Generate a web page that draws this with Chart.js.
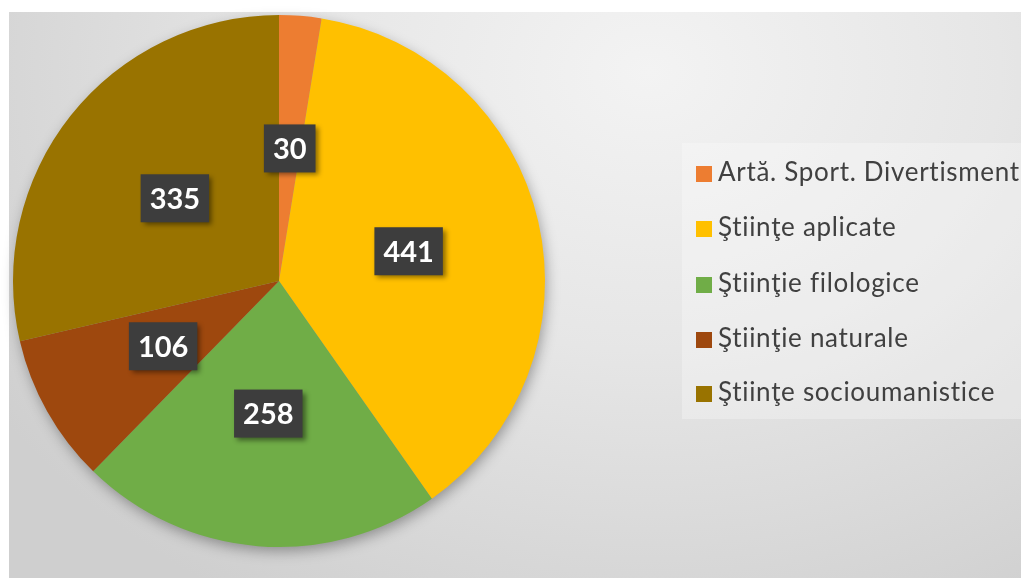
<!DOCTYPE html>
<html>
<head>
<meta charset="utf-8">
<script src="https://cdn.jsdelivr.net/npm/chart.js@4"></script>
<style>
    html, body { margin: 0; padding: 0; background: #ffffff; }
    #wrap {
        position: relative;
        width: 1021px;
        height: 578px;
        overflow: hidden;
    }
    #panel {
        position: absolute;
        left: 9px;
        top: 12px;
        right: 0;
        bottom: 0;
        background: radial-gradient(ellipse 780px 620px at 640px 60px, #f3f3f3 0%, #e6e6e6 45%, #cfcfcf 100%);
    }
    #chart { position: absolute; left: 0; top: 0; }
    #legend {
        position: absolute;
        left: 682px;
        top: 143px;
        width: 339px;
        height: 276px;
        background: rgba(255, 255, 255, 0.28);
        font-family: Lato, "Open Sans", sans-serif;
        font-size: 26px;
        letter-spacing: 0.7px;
        color: #404040;
    }
    #legend ul { list-style: none; margin: 0; padding: 0; }
    #legend li {
        position: absolute;
        left: 14px;
        height: 34px;
        line-height: 34px;
        white-space: nowrap;
    }
    #legend li span.box {
        display: inline-block;
        width: 16px;
        height: 16px;
        margin-right: 6px;
        vertical-align: -1px;
    }
</style>
</head>
<body>
<div id="wrap">
    <div id="panel"></div>
    <canvas id="chart" width="1021" height="578"></canvas>
    <div id="legend"></div>
</div>
<script>
// Datos
const categories = [
    'Artă. Sport. Divertisment',
    'Ştiinţe aplicate',
    'Ştiinţie filologice',
    'Ştiinţie naturale',
    'Ştiinţe socioumanistice'
];
const counts = [30, 441, 258, 106, 335];
const sliceColors = ['#ED7D31', '#FFC000', '#70AD47', '#9E480E', '#997300'];

// Sombra suave debajo del círculo
const pieShadow = {
    id: 'pieShadow',
    beforeDatasetsDraw(chart) {
        const arc = chart.getDatasetMeta(0).data[0];
        if (!arc) return;
        const ctx = chart.ctx;
        ctx.save();
        ctx.shadowColor = 'rgba(0,0,0,0.35)';
        ctx.shadowBlur = 14;
        ctx.shadowOffsetX = 2;
        ctx.shadowOffsetY = 5;
        ctx.fillStyle = '#999999';
        ctx.beginPath();
        ctx.arc(arc.x, arc.y, arc.outerRadius - 1, 0, Math.PI * 2);
        ctx.fill();
        ctx.restore();
    }
};

// Etiquetas de valor en cajas oscuras
const valueBoxes = {
    id: 'valueBoxes',
    afterDatasetsDraw(chart) {
        const ctx = chart.ctx;
        const meta = chart.getDatasetMeta(0);
        ctx.save();
        ctx.font = 'bold 29px Lato, "Open Sans", sans-serif';
        ctx.textAlign = 'center';
        ctx.textBaseline = 'middle';
        meta.data.forEach((arc, i) => {
            const pos = arc.tooltipPosition();
            const text = String(chart.data.datasets[0].data[i]);
            const w = ctx.measureText(text).width + 18;
            const h = 48;
            ctx.save();
            ctx.shadowColor = 'rgba(0,0,0,0.45)';
            ctx.shadowBlur = 5;
            ctx.shadowOffsetX = 3;
            ctx.shadowOffsetY = 3;
            ctx.fillStyle = '#3d3d3d';
            ctx.fillRect(pos.x - w / 2, pos.y - h / 2, w, h);
            ctx.restore();
            ctx.fillStyle = '#ffffff';
            ctx.fillText(text, pos.x, pos.y + 1);
        });
        ctx.restore();
    }
};

const canvas = document.getElementById('chart');
const chart = new Chart(canvas.getContext('2d'), {
    type: 'pie',
    data: {
        labels: categories,
        datasets: [{
            data: counts,
            backgroundColor: sliceColors,
            borderWidth: 0
        }]
    },
    options: {
        responsive: false,
        animation: false,
        layout: {
            padding: { left: 13, top: 15, right: 476, bottom: 31 }
        },
        plugins: {
            legend: { display: false },
            tooltip: { enabled: false }
        }
    },
    plugins: [pieShadow, valueBoxes]
});

// Leyenda en HTML a partir de las mismas listas
const legendEl = document.getElementById('legend');
const ul = document.createElement('ul');
const rowCenters = [28, 83, 139, 194, 248];
categories.forEach((name, i) => {
    const li = document.createElement('li');
    li.style.top = (rowCenters[i] - 17) + 'px';
    const box = document.createElement('span');
    box.className = 'box';
    box.style.background = sliceColors[i];
    li.appendChild(box);
    li.appendChild(document.createTextNode(name));
    ul.appendChild(li);
});
legendEl.appendChild(ul);
</script>
</body>
</html>
